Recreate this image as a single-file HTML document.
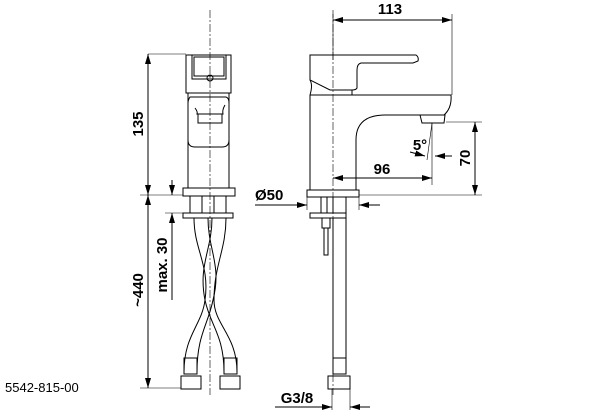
<!DOCTYPE html>
<html><head><style>
html,body{margin:0;padding:0;background:#fff;width:614px;height:415px;overflow:hidden}
text{font-family:"Liberation Sans",Arial,sans-serif;font-weight:bold;font-size:15px;fill:#000}
</style></head><body>
<svg width="614" height="415" viewBox="0 0 614 415" xmlns="http://www.w3.org/2000/svg">
<defs>
<marker id="a" viewBox="0 0 10 6" refX="10" refY="3" markerWidth="10" markerHeight="6" markerUnits="userSpaceOnUse" orient="auto"><path d="M0,0 L10,3 L0,6z" fill="#000"/></marker>
</defs>
<g fill="none" stroke="#000" stroke-width="1">
<!-- front view -->
<line x1="210" y1="10" x2="210" y2="395" stroke-dasharray="8,2,2,2" stroke-width="0.6"/>
<rect x="186" y="55" width="45" height="38"/>
<rect x="192" y="55" width="34" height="24"/>
<rect x="194" y="57" width="30" height="19"/>
<circle cx="210" cy="78" r="3"/>
<path d="M188,93 L188,188 M229,93 L229,188"/>
<path d="M190,97 Q188,100 188,103 V140 Q188,147 195,147 H222 Q229,147 229,140 V103 Q229,98 226,97 Z"/>
<path d="M195,108 Q198,112 197,114 H223 Q222,110 225,105"/>
<rect x="198" y="114" width="24" height="9"/>
<rect x="183" y="188" width="52" height="8"/>
<rect x="190" y="196" width="12" height="17"/><rect x="214" y="196" width="12" height="17"/>
<rect x="183" y="213" width="50" height="5"/>
<path d="M194,218 C194,250 210,265 205,300 C202,325 184,335 184,372 M208,218 C208,250 222,265 213,300 C208,325 197,335 197,372"/>
<path d="M212,218 C212,250 198,265 205,300 C210,325 224,335 224,372 M226,218 C226,250 214,265 214,300 C214,325 237,335 237,372"/>
<rect x="184" y="358" width="13" height="16"/><rect x="224" y="358" width="13" height="16"/>
<rect x="181" y="376" width="20" height="13"/><rect x="220" y="376" width="20" height="13"/>
<!-- dims front -->
<line x1="148" y1="54" x2="186" y2="54" stroke-width="0.6"/>
<line x1="140" y1="195" x2="183" y2="195" stroke-width="0.6"/>
<line x1="140" y1="388" x2="181" y2="388" stroke-width="0.6"/>
<line x1="148" y1="125" x2="148" y2="54" marker-end="url(#a)"/>
<line x1="148" y1="125" x2="148" y2="195" marker-end="url(#a)"/>
<line x1="148" y1="290" x2="148" y2="195" marker-end="url(#a)"/>
<line x1="148" y1="290" x2="148" y2="388" marker-end="url(#a)"/>
<line x1="165" y1="213" x2="183" y2="213" stroke-width="0.6"/>
<line x1="172" y1="180" x2="172" y2="195" marker-end="url(#a)"/>
<line x1="172" y1="300" x2="172" y2="213" marker-end="url(#a)"/>
<!-- side view -->
<line x1="333" y1="10" x2="333" y2="395" stroke-dasharray="8,2,2,2" stroke-width="0.6"/>
<path d="M310,55 H416 Q419,57 418,61 L413,63 H361 Q357,64 357,70 V88 Q356,90 352,90 H330 L310,80 Z"/>
<path d="M310,80 Q313,85 310,95 M330,90 L352,90 V95"/>
<path d="M310,95 H451 Q452,108 444,115 M310,95 V190 M356,190 V140 Q356,115 385,115 H420"/>
<path d="M420,115 H445 L444,123 H422 Z"/>
<rect x="307" y="190" width="52" height="7"/>
<rect x="321" y="197" width="6" height="16"/><rect x="333" y="197" width="13" height="16"/>
<rect x="310" y="213" width="36" height="5"/>
<rect x="322" y="218" width="8" height="10"/><rect x="324" y="228" width="4" height="27"/>
<path d="M333,218 V372 M346,218 V372"/>
<rect x="333" y="358" width="13" height="16"/>
<rect x="328" y="376" width="22" height="13"/>
<!-- dims side -->
<line x1="333" y1="14" x2="333" y2="60" stroke-width="0.6"/>
<line x1="452" y1="14" x2="452" y2="95" stroke-width="0.6"/>
<line x1="392" y1="20" x2="333" y2="20" marker-end="url(#a)"/>
<line x1="392" y1="20" x2="452" y2="20" marker-end="url(#a)"/>
<line x1="432" y1="123" x2="432" y2="185" stroke-width="0.6"/>
<line x1="380" y1="178" x2="333" y2="178" marker-end="url(#a)"/>
<line x1="380" y1="178" x2="432" y2="178" marker-end="url(#a)"/>
<line x1="446" y1="122" x2="482" y2="122" stroke-width="0.6"/>
<line x1="359" y1="195" x2="482" y2="195" stroke-width="0.6"/>
<line x1="475" y1="158" x2="475" y2="122" marker-end="url(#a)"/>
<line x1="475" y1="158" x2="475" y2="195" marker-end="url(#a)"/>
<line x1="432" y1="123" x2="427" y2="160" stroke-width="0.6"/>
<line x1="410" y1="152" x2="425" y2="156" marker-end="url(#a)"/>
<line x1="452" y1="156" x2="435" y2="156" marker-end="url(#a)"/>
<line x1="307" y1="197" x2="307" y2="210" stroke-width="0.6"/>
<line x1="359" y1="197" x2="359" y2="210" stroke-width="0.6"/>
<line x1="255" y1="205" x2="307" y2="205" marker-end="url(#a)"/>
<line x1="380" y1="205" x2="359" y2="205" marker-end="url(#a)"/>
<line x1="332" y1="389" x2="332" y2="410" stroke-width="0.6"/>
<line x1="350" y1="389" x2="350" y2="410" stroke-width="0.6"/>
<line x1="275" y1="407" x2="332" y2="407" marker-end="url(#a)"/>
<line x1="370" y1="407" x2="350" y2="407" marker-end="url(#a)"/>
</g>
<text x="390" y="14" text-anchor="middle">113</text>
<text x="382" y="174" text-anchor="middle">96</text>
<text transform="translate(470,158) rotate(-90)" text-anchor="middle">70</text>
<text x="420" y="150" text-anchor="middle">5°</text>
<text x="255" y="200">Ø50</text>
<text x="297" y="403" text-anchor="middle">G3/8</text>
<text transform="translate(143,124) rotate(-90)" text-anchor="middle">135</text>
<text transform="translate(143,290) rotate(-90)" text-anchor="middle">~440</text>
<text transform="translate(167,265) rotate(-90)" text-anchor="middle">max. 30</text>
<text x="5" y="392" style="font-weight:normal;font-size:13px">5542-815-00</text>
</svg>
</body></html>
